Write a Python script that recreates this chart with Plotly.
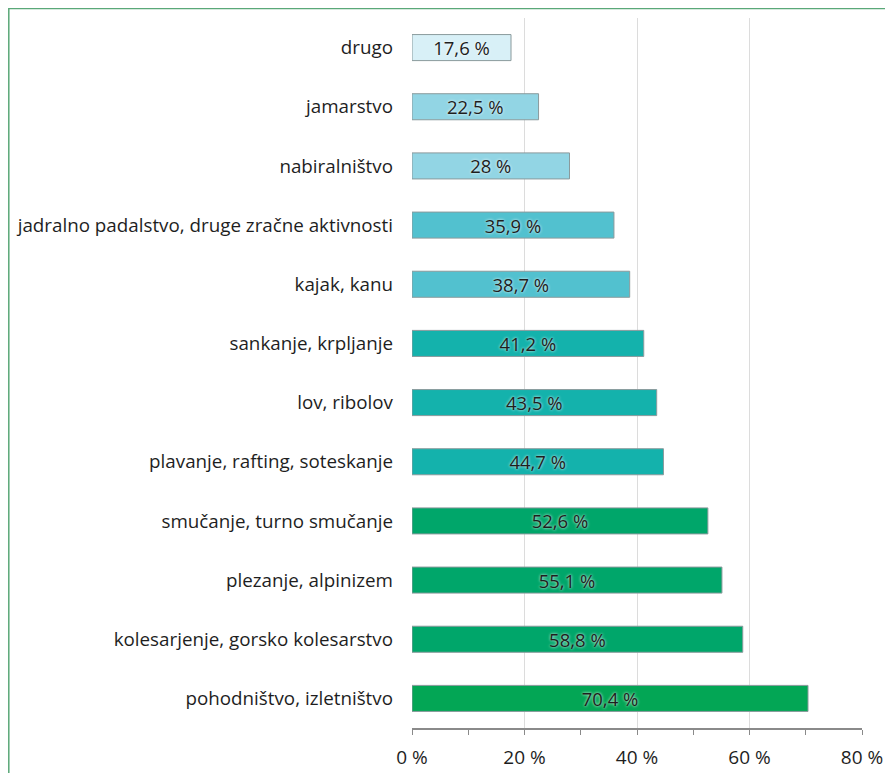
import plotly.graph_objects as go

categories = [
    "drugo",
    "jamarstvo",
    "nabiralništvo",
    "jadralno padalstvo, druge zračne aktivnosti",
    "kajak, kanu",
    "sankanje, krpljanje",
    "lov, ribolov",
    "plavanje, rafting, soteskanje",
    "smučanje, turno smučanje",
    "plezanje, alpinizem",
    "kolesarjenje, gorsko kolesarstvo",
    "pohodništvo, izletništvo",
]
values = [17.6, 22.5, 28, 35.9, 38.7, 41.2, 43.5, 44.7, 52.6, 55.1, 58.8, 70.4]
colors = [
    "#d8f0f7", "#92d5e4", "#92d5e4",
    "#52c1cf", "#52c1cf",
    "#14b2ac", "#14b2ac", "#14b2ac",
    "#00a66a", "#00a66a", "#00a66a", "#03a655",
]
tick_vals = [0, 20, 40, 60, 80]
tick_text = ["0 %", "20 %", "40 %", "60 %", "80 %"]
all_ticks = [0, 10, 20, 30, 40, 50, 60, 70, 80]


def fmt(v):
    s = ("%g" % v).replace(".", ",")
    return s + " %"


labels = [fmt(v) for v in values]

FONT = "Open Sans"

fig = go.Figure(
    go.Bar(
        x=values,
        y=categories,
        orientation="h",
        marker=dict(color=colors, line=dict(color="#8a9a9c", width=1)),
        width=0.44,
        text=labels,
        textposition="inside",
        insidetextanchor="middle",
        constraintext="none",
        textangle=0,
        textfont=dict(family=FONT, size=18.5, color="#1e1e1e",
                      shadow="0px 0px 3px #ffffff"),
        hoverinfo="skip",
    )
)

fig.update_layout(
    width=885,
    height=765,
    margin=dict(l=404, r=31, t=10, b=45, autoexpand=False),
    paper_bgcolor="white",
    plot_bgcolor="white",
    showlegend=False,
    uniformtext=dict(minsize=18.5, mode="show"),
    font=dict(family=FONT, color="#1e1e1e"),
    shapes=[
        dict(type="rect", xref="paper", yref="paper",
             x0=-0.896, x1=1.2, y0=-0.2, y1=1.0135,
             line=dict(color="#5aa878", width=1.5), layer="below"),
    ],
    xaxis=dict(
        range=[0, 80],
        tickvals=tick_vals,
        ticktext=tick_text,
        tickfont=dict(family=FONT, size=19, color="#1e1e1e"),
        ticklabelstandoff=6,
        automargin=False,
        showgrid=True,
        gridcolor="#dcdcdc",
        gridwidth=1,
        showline=True,
        linecolor="#8a8a8a",
        linewidth=1.5,
        ticks="outside",
        ticklen=5,
        tickcolor="#8a8a8a",
        minor=dict(tickvals=[10, 30, 50, 70], ticks="outside", ticklen=5,
                   tickcolor="#8a8a8a", showgrid=False),
        zeroline=False,
        fixedrange=True,
    ),
    xaxis2=dict(
        overlaying="x", anchor="y", side="bottom",
        range=[0, 80], tickvals=all_ticks, ticks="inside", ticklen=6,
        tickcolor="#8a8a8a", showticklabels=False, showgrid=False,
        showline=False, zeroline=False, fixedrange=True, automargin=False,
    ),
    yaxis=dict(
        categoryorder="array",
        categoryarray=categories[::-1],
        tickfont=dict(family=FONT, size=18.8, color="#1e1e1e"),
        showline=False,
        showgrid=False,
        ticks="",
        ticklabelstandoff=18,
        automargin=False,
        fixedrange=True,
    ),
)

fig.write_html("out.html")
